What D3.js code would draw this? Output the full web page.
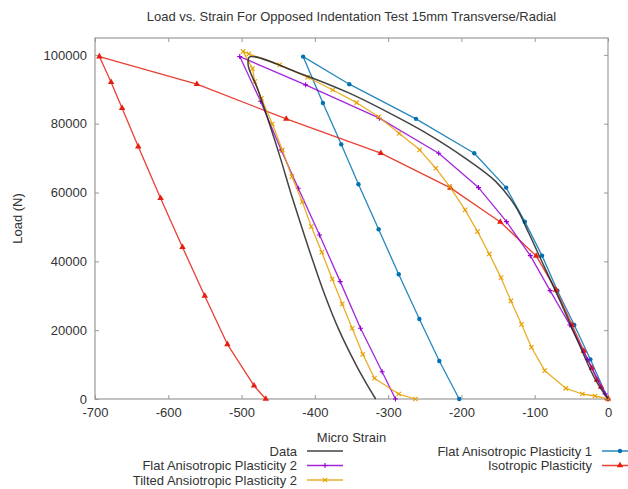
<!DOCTYPE html>
<html>
<head>
<meta charset="utf-8">
<script src="https://cdn.jsdelivr.net/npm/d3@7"></script>
<style>
  body { margin: 0; background: #fff; }
  text { font-family: "Liberation Sans", Arial, sans-serif; fill: #333; }
</style>
</head>
<body>
<svg id="chart"></svg>
<script>
// values: [micro strain, load N]
var dataCurve = [[0,0],[-17,5520],[-40,16190],[-64,27820],[-87,38460],[-108,48170],[-126,55900],[-153,63170],
  [-198,70440],[-244,76740],[-285,81600],[-353,88870],[-421,94680],[-489,99400],
  [-491,97000],[-478,90000],[-462,80000],[-447,70000],[-433,60000],[-418,50000],[-402.5,40000],[-386,30000],
  [-367,20000],[-344,10000],[-331,5000],[-317,0]];
var flatAniso1 = [[0,0],[-24,11500],[-46,21500],[-69,31480],[-90,41660],[-113.5,51540],[-139,61430],[-182.5,71420],
  [-262,81400],[-353,91480],[-416,99500],[-389,86000],[-364,74000],[-340.5,62400],[-313,49330],
  [-285.6,36250],[-257.4,23260],[-230.2,11050],[-203,0]];
var flatAniso2 = [[0,0],[-4,1500],[-28,11500],[-52,21500],[-79,31480],[-106,41660],[-138.5,51540],[-176.7,61430],
  [-231,71420],[-312,81600],[-412.6,91280],[-502.5,99500],[-474,86500],[-446,72380],[-422.6,61240],
  [-393.6,47670],[-365.4,34110],[-337.7,20550],[-308.2,7940],[-290,0]];
var tiltedAniso2 = [[0,0],[-17.7,870],[-35,1450],[-57.6,3110],[-86.3,8230],[-104.5,15030],[-118,21700],[-132.5,28490],
  [-146,35260],[-162,42150],[-178,48630],[-195,54940],[-216,61700],[-235,67060],[-257,72400],[-285,77200],
  [-313,82000],[-343,86100],[-375.5,89800],[-410,93500],[-448,97100],[-490,100300],[-498,101000],
  [-485,96000],[-482,92240],[-473,87400],[-458,79900],[-444.4,72380],[-431.3,64620],[-417.2,57350],
  [-404.9,50090],[-390.5,42640],[-376.3,34880],[-362.7,27620],[-349.1,20550],[-334.6,12990],[-318.7,6020],
  [-285.6,1450],[-262.8,0]];
var isotropic = [[0,0],[-9.5,3490],[-15,5520],[-22,9010],[-33,13950],[-49,21510],[-71,31690],[-98,41570],
  [-147,51450],[-215,61340],[-310,71430],[-439,81400],[-561,91500],[-694,99500],[-678,92060],[-663,84500],
  [-641,73350],[-610.5,58340],[-580.6,44100],[-550.2,29940],[-519.3,15900],[-483,3870],[-467,0]];

var xTicks = [-700, -600, -500, -400, -300, -200, -100, 0];
var yTicks = [0, 20000, 40000, 60000, 80000, 100000];

var series = [
  {name: "Data", values: dataCurve, color: "#222222", marker: "none"},
  {name: "Flat Anisotropic Plasticity 2", values: flatAniso2, color: "#9400d3", marker: "plus"},
  {name: "Tilted Ansiotropic Plasticity 2", values: tiltedAniso2, color: "#e69f00", marker: "cross"},
  {name: "Flat Anisotropic Plasticity 1", values: flatAniso1, color: "#0072b2", marker: "circle"},
  {name: "Isotropic Plasticity", values: isotropic, color: "#e51e10", marker: "triangle"}
];

var width = 628, height = 489;
var plotLeft = 95, plotRight = 608, plotTop = 38, plotBottom = 399;
var fontSize = "13px";

var svg = d3.select("#chart").attr("width", width).attr("height", height);

var x = d3.scaleLinear().domain([-700, 0]).range([plotLeft, plotRight]);
var y = d3.scaleLinear().domain([0, 104900]).range([plotBottom, plotTop]);

var axisColor = "#999";
var plain = function(d) { return String(d); };

// frame
svg.append("rect")
  .attr("x", plotLeft).attr("y", plotTop)
  .attr("width", plotRight - plotLeft).attr("height", plotBottom - plotTop)
  .attr("fill", "none").attr("stroke", axisColor).attr("stroke-width", 1.2);

function styleAxis(g) {
  g.select(".domain").remove();
  g.selectAll("line").attr("stroke", axisColor);
  g.selectAll("text").attr("font-size", fontSize).attr("fill", "#333")
    .attr("font-family", "'Liberation Sans', Arial, sans-serif");
}

svg.append("g").attr("transform", "translate(0," + plotBottom + ")")
  .call(d3.axisBottom(x).tickValues(xTicks).tickSize(-4).tickPadding(9).tickFormat(plain))
  .call(styleAxis);
svg.append("g").attr("transform", "translate(0," + plotTop + ")")
  .call(d3.axisTop(x).tickValues(xTicks).tickSize(-4).tickFormat(""))
  .call(styleAxis);
svg.append("g").attr("transform", "translate(" + plotLeft + ",0)")
  .call(d3.axisLeft(y).tickValues(yTicks).tickSize(-4).tickPadding(8).tickFormat(plain))
  .call(styleAxis);
svg.append("g").attr("transform", "translate(" + plotRight + ",0)")
  .call(d3.axisRight(y).tickValues(yTicks).tickSize(-4).tickFormat(""))
  .call(styleAxis);

// titles
svg.append("text").attr("x", (plotLeft + plotRight) / 2).attr("y", 21)
  .attr("text-anchor", "middle").attr("font-size", fontSize)
  .text("Load vs. Strain For Opposed Indentation Test 15mm Transverse/Radial");
svg.append("text").attr("x", (plotLeft + plotRight) / 2).attr("y", 442)
  .attr("text-anchor", "middle").attr("font-size", fontSize)
  .text("Micro Strain");
svg.append("text").attr("transform", "translate(22," + ((plotTop + plotBottom) / 2) + ") rotate(-90)")
  .attr("text-anchor", "middle").attr("font-size", fontSize)
  .text("Load (N)");

// markers
function drawMarker(g, type, color, cx, cy) {
  if (type == "circle") {
    g.append("circle").attr("cx", cx).attr("cy", cy).attr("r", 2.2).attr("fill", color);
  } else if (type == "triangle") {
    g.append("path").attr("d", d3.symbol().type(d3.symbolTriangle).size(18)())
      .attr("transform", "translate(" + cx + "," + cy + ")").attr("fill", color);
  } else if (type == "plus") {
    g.append("path").attr("d", "M-2.5,0H2.5M0,-2.5V2.5")
      .attr("transform", "translate(" + cx + "," + cy + ")")
      .attr("stroke", color).attr("stroke-width", 1.1);
  } else if (type == "cross") {
    g.append("path").attr("d", "M-2.2,-2.2L2.2,2.2M-2.2,2.2L2.2,-2.2")
      .attr("transform", "translate(" + cx + "," + cy + ")")
      .attr("stroke", color).attr("stroke-width", 1.1);
  }
}

var line = d3.line().x(function(d) { return x(d[0]); }).y(function(d) { return y(d[1]); });
// measured data is a dense smooth curve in the original
var smoothLine = d3.line().curve(d3.curveCatmullRom.alpha(0.5))
  .x(function(d) { return x(d[0]); }).y(function(d) { return y(d[1]); });

var drawOrder = [3, 4, 1, 2, 0];
drawOrder.forEach(function(i) {
  var s = series[i];
  var g = svg.append("g");
  g.append("path").datum(s.values)
    .attr("d", s.marker == "none" ? smoothLine : line)
    .attr("fill", "none")
    .attr("stroke", s.color)
    .attr("stroke-width", s.marker == "none" ? 1.5 : 1.3)
    .attr("stroke-opacity", 0.85)
    .attr("stroke-linejoin", "round");
  s.values.forEach(function(d) {
    drawMarker(g, s.marker, s.color, x(d[0]), y(d[1]));
  });
});

// legend: two columns like gnuplot
var legendPos = [
  {textX: 297, lineX: 307, y: 451},
  {textX: 297, lineX: 307, y: 465.5},
  {textX: 297, lineX: 307, y: 480},
  {textX: 592, lineX: 602, y: 451},
  {textX: 592, lineX: 602, y: 465.5}
];
series.forEach(function(s, i) {
  var p = legendPos[i];
  var g = svg.append("g");
  g.append("text").attr("x", p.textX).attr("y", p.y).attr("dy", "0.35em")
    .attr("text-anchor", "end").attr("font-size", fontSize).text(s.name);
  g.append("line").attr("x1", p.lineX).attr("x2", p.lineX + 36)
    .attr("y1", p.y).attr("y2", p.y)
    .attr("stroke", s.color).attr("stroke-width", 1.5).attr("stroke-opacity", 0.85);
  drawMarker(g, s.marker, s.color, p.lineX + 18, p.y);
});
</script>
</body>
</html>
